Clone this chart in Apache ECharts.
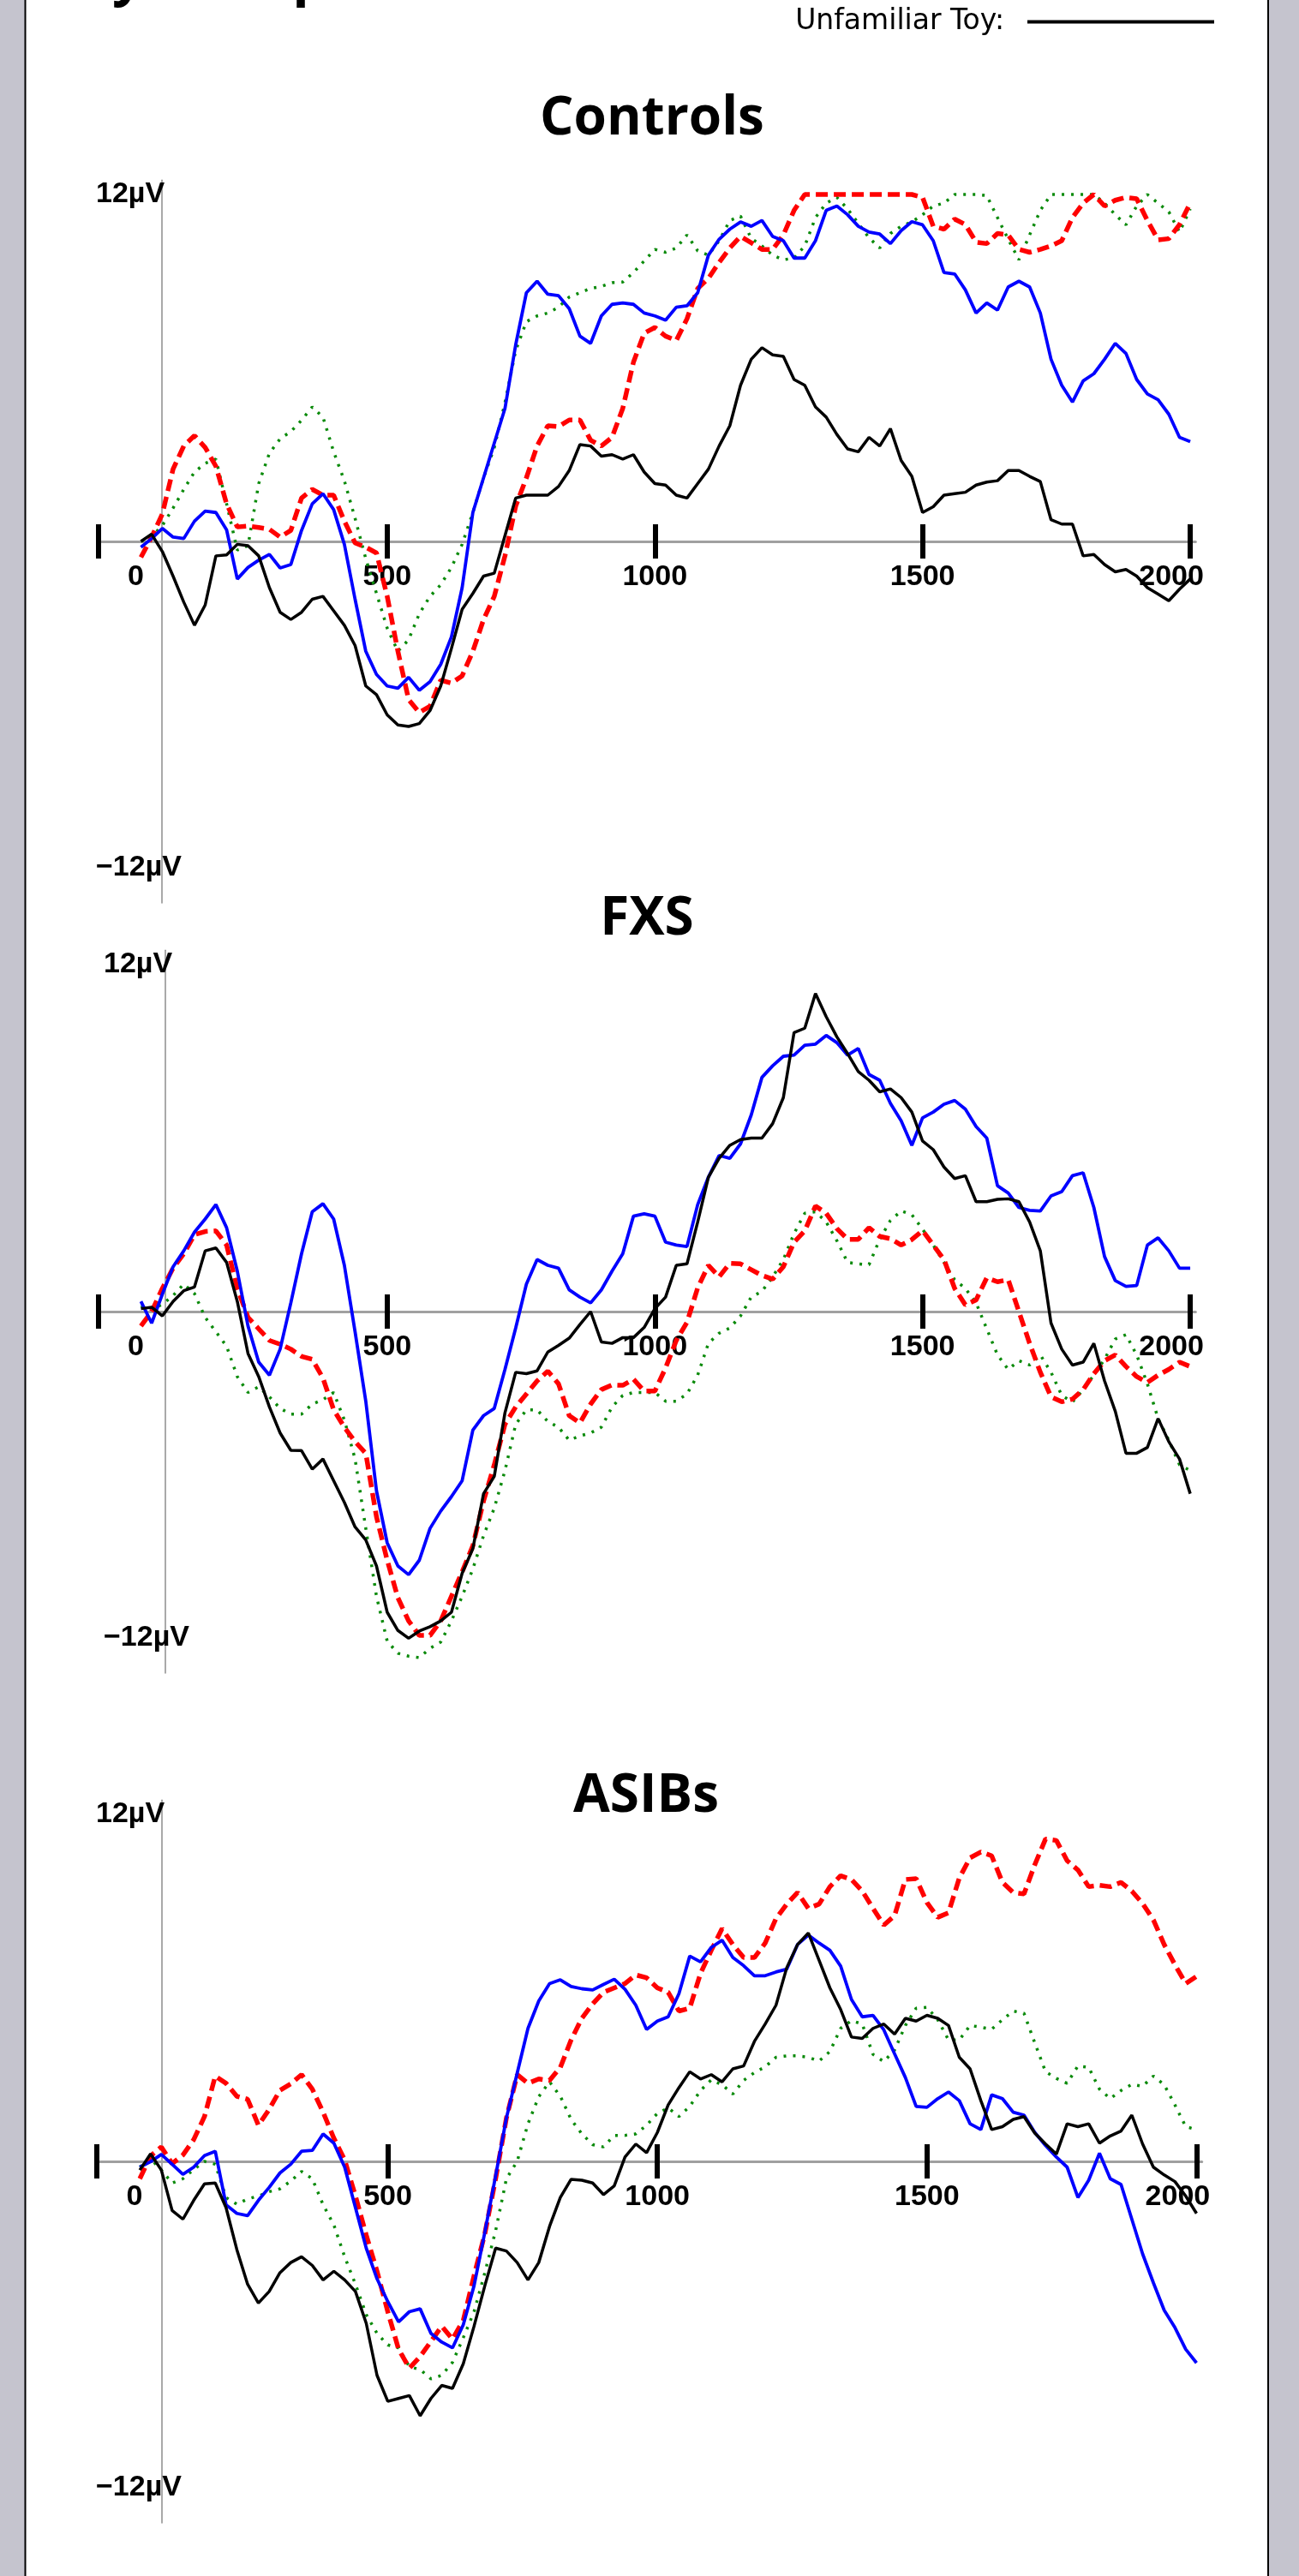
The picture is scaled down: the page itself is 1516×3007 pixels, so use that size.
<!DOCTYPE html>
<html>
<head>
<meta charset="utf-8">
<script src="https://cdn.jsdelivr.net/npm/echarts@6/dist/echarts.min.js"></script>
<style>
html, body { margin: 0; padding: 0; background: #fff; }
#chart { width: 1516px; height: 3007px; }
</style>
</head>
<body>
<div id="chart"></div>
<script>
// time of each sample (ms)
var times = [
  40, 60, 80, 100, 120, 140, 160, 180, 200, 220,
  240, 260, 280, 300, 320, 340, 360, 380, 400, 420,
  440, 460, 480, 500, 520, 540, 560, 580, 600, 620,
  640, 660, 680, 700, 720, 740, 760, 780, 800, 820,
  840, 860, 880, 900, 920, 940, 960, 980, 1000, 1020,
  1040, 1060, 1080, 1100, 1120, 1140, 1160, 1180, 1200, 1220,
  1240, 1260, 1280, 1300, 1320, 1340, 1360, 1380, 1400, 1420,
  1440, 1460, 1480, 1500, 1520, 1540, 1560, 1580, 1600, 1620,
  1640, 1660, 1680, 1700, 1720, 1740, 1760, 1780, 1800, 1820,
  1840, 1860, 1880, 1900, 1920, 1940, 1960, 1980, 2000
];

var xTicks = [-40, 500, 1000, 1500, 2000];
var xLabels = [0, 500, 1000, 1500, 2000];
var yLabels = [-12, 12];

// ---- Controls (µV) ----
var ctrlBlack = [
  0.0, 0.25, -0.35, -1.2, -2.1, -2.9, -2.2, -0.5, -0.47, -0.1,
  -0.15, -0.5, -1.6, -2.45, -2.7, -2.45, -2.0, -1.9, -2.4, -2.9,
  -3.6, -5.0, -5.3, -6.0, -6.35, -6.4, -6.3, -5.85, -5.0, -3.7,
  -2.35, -1.8, -1.2, -1.1, 0.2, 1.5, 1.6, 1.6, 1.6, 1.9,
  2.45, 3.35, 3.3, 2.95, 3.0, 2.85, 3.0, 2.4, 2.0, 1.95,
  1.6, 1.5, 2.0, 2.5, 3.3, 4.0, 5.4, 6.3, 6.7, 6.45,
  6.4, 5.6, 5.4, 4.65, 4.3, 3.7, 3.2, 3.1, 3.6, 3.3,
  3.9, 2.8, 2.25, 1.0, 1.2, 1.6, 1.65, 1.7, 1.95, 2.05,
  2.1, 2.45, 2.45, 2.25, 2.07, 0.75, 0.6, 0.6, -0.5, -0.45,
  -0.8, -1.05, -0.97, -1.2, -1.6, -1.82, -2.05, -1.65, -1.3
];
var ctrlBlue = [
  -0.2, 0.1, 0.45, 0.15, 0.1, 0.7, 1.05, 1.0, 0.4, -1.3,
  -0.9, -0.65, -0.45, -0.92, -0.8, 0.38, 1.3, 1.65, 1.1, -0.1,
  -2.0, -3.8, -4.6, -5.0, -5.08, -4.7, -5.15, -4.85, -4.25, -3.3,
  -1.6, 1.0, 2.2, 3.4, 4.6, 6.8, 8.6, 9.0, 8.55, 8.5,
  8.05, 7.1, 6.85, 7.8, 8.2, 8.25, 8.2, 7.9, 7.8, 7.65,
  8.1, 8.15, 8.6, 9.9, 10.45, 10.8, 11.05, 10.9, 11.1, 10.55,
  10.4, 9.8, 9.8, 10.4, 11.45, 11.6, 11.3, 10.9, 10.7, 10.63,
  10.3, 10.75, 11.06, 10.95, 10.4, 9.3, 9.25, 8.7, 7.9, 8.25,
  8.0, 8.8, 9.0, 8.8, 7.9, 6.3, 5.4, 4.82, 5.55, 5.8,
  6.3, 6.85, 6.5, 5.6, 5.1, 4.9, 4.4, 3.6, 3.45
];
var ctrlRed = [
  -0.55, 0.15, 0.95, 2.5, 3.3, 3.66, 3.25, 2.6, 1.3, 0.5,
  0.53, 0.48, 0.42, 0.15, 0.38, 1.5, 1.8, 1.6, 1.6, 0.7,
  -0.05, -0.2, -0.4, -1.9, -3.8, -5.47, -5.92, -5.7, -4.8, -4.9,
  -4.65, -3.8, -2.7, -1.9, -0.5, 1.22, 2.2, 3.3, 4.0, 3.97,
  4.2, 4.2, 3.5, 3.3, 3.6, 4.6, 6.2, 7.2, 7.4, 7.1,
  6.95, 7.7, 8.75, 9.1, 9.65, 10.15, 10.55, 10.33, 10.1, 10.1,
  10.6, 11.45, 12, 12, 12, 12, 12, 12, 12, 12,
  12, 12, 12, 11.9, 10.9, 10.8, 11.15, 10.96, 10.35, 10.3,
  10.65, 10.6, 10.1, 10.0, 10.1, 10.22, 10.4, 11.2, 11.7, 12.0,
  11.6, 11.8, 11.9, 11.85, 11.1, 10.43, 10.47, 10.96, 11.7
];
var ctrlGreen = [
  0.0, 0.17, 0.55, 1.15, 1.8, 2.4, 2.7, 2.85, 1.3, -0.3,
  -0.15, 2.0, 3.05, 3.55, 3.8, 4.19, 4.65, 4.3, 3.1, 2.1,
  0.8, -0.6, -1.8, -3.0, -3.8, -3.4, -2.5, -1.9, -1.5, -0.9,
  -0.1, 1.0, 2.2, 3.24, 4.8, 6.6, 7.6, 7.8, 7.9, 8.1,
  8.45, 8.6, 8.75, 8.82, 8.95, 8.97, 9.3, 9.7, 10.1, 10.0,
  10.15, 10.6, 10.05, 9.9, 10.4, 11.1, 11.25, 10.48, 10.22, 9.9,
  9.74, 9.8, 10.22, 11.2, 11.7, 11.9, 11.5, 11.0, 10.5, 10.15,
  10.65, 10.9, 11.05, 11.3, 11.6, 11.7, 12.0, 12.0, 12.0, 11.96,
  11.2, 10.45, 9.74, 10.6, 11.45, 12.0, 12.0, 12.0, 12.0, 12.0,
  11.7, 11.3, 10.95, 11.6, 12.0, 11.7, 11.4, 10.7, 11.5
];

// ---- FXS (µV) ----
var fxsBlack = [
  0.1, 0.15, -0.15, 0.35, 0.72, 0.85, 2.1, 2.2, 1.7, 0.35,
  -1.45, -2.25, -3.3, -4.2, -4.8, -4.81, -5.45, -5.1, -5.85, -6.6,
  -7.45, -7.9, -8.8, -10.4, -11.03, -11.3, -11.05, -10.9, -10.7, -10.4,
  -9.05, -8.2, -6.3, -5.7, -3.5, -2.1, -2.15, -2.05, -1.4, -1.17,
  -0.92, -0.45, 0.0, -1.05, -1.1, -0.9, -0.9, -0.55, 0.1, 0.5,
  1.6, 1.65, 3.1, 4.65, 5.3, 5.75, 5.95, 6.0, 6.0, 6.5,
  7.4, 9.65, 9.8, 11.0, 10.2, 9.5, 8.92, 8.3, 8.0, 7.6,
  7.7, 7.4, 6.9, 5.9, 5.6, 5.0, 4.6, 4.7, 3.8, 3.8,
  3.88, 3.9, 3.8, 3.1, 2.1, -0.4, -1.3, -1.85, -1.75, -1.1,
  -2.4, -3.45, -4.9, -4.9, -4.7, -3.7, -4.5, -5.1, -6.3
];
var fxsBlue = [
  0.35, -0.4, 0.6, 1.55, 2.1, 2.75, 3.2, 3.7, 2.9, 1.4,
  -0.5, -1.75, -2.2, -1.3, 0.3, 2.0, 3.45, 3.73, 3.2, 1.6,
  -0.7, -3.1, -6.2, -8.0, -8.8, -9.1, -8.6, -7.5, -6.9, -6.4,
  -5.85, -4.1, -3.6, -3.35, -2.0, -0.57, 0.95, 1.8, 1.6, 1.5,
  0.75, 0.5, 0.3, 0.75, 1.4, 2.0, 3.3, 3.38, 3.3, 2.4,
  2.3, 2.25, 3.7, 4.65, 5.4, 5.3, 5.8, 6.8, 8.1, 8.5,
  8.83, 8.87, 9.21, 9.25, 9.55, 9.3, 8.87, 9.1, 8.2, 8.0,
  7.2, 6.6, 5.75, 6.7, 6.9, 7.17, 7.3, 7.0, 6.4, 6.0,
  4.35, 4.1, 3.6, 3.5, 3.48, 4.0, 4.15, 4.7, 4.8, 3.6,
  1.9, 1.07, 0.87, 0.9, 2.3, 2.55, 2.1, 1.5, 1.5
];
var fxsRed = [
  -0.5, 0.0, 0.8, 1.5, 2.0, 2.66, 2.77, 2.79, 2.3, 0.8,
  -0.2, -0.6, -1.0, -1.13, -1.3, -1.55, -1.65, -2.3, -3.4, -4.0,
  -4.5, -4.9, -7.1, -8.6, -9.9, -10.7, -11.2, -11.2, -10.7, -9.85,
  -9.0, -8.1, -6.55, -5.3, -3.9, -3.3, -2.85, -2.4, -2.06, -2.5,
  -3.6, -3.85, -3.2, -2.7, -2.54, -2.55, -2.34, -2.75, -2.75, -1.95,
  -1.0, -0.37, 0.82, 1.6, 1.2, 1.67, 1.65, 1.45, 1.25, 1.12,
  1.55, 2.4, 2.79, 3.65, 3.4, 2.87, 2.5, 2.5, 2.9, 2.6,
  2.52, 2.3, 2.49, 2.8, 2.3, 1.8, 0.8, 0.23, 0.4, 1.17,
  1.03, 1.1, 0.0, -1.1, -2.1, -2.95, -3.12, -3.03, -2.7, -2.15,
  -1.7, -1.5, -1.9, -2.25, -2.45, -2.2, -2.0, -1.75, -1.9
];
var fxsGreen = [
  0.2, 0.08, 0.25, 0.55, 0.95, 0.62, -0.2, -0.7, -1.2, -2.25,
  -2.8, -2.6, -2.95, -3.35, -3.55, -3.55, -3.2, -3.05, -2.8, -3.75,
  -5.1, -7.5, -9.85, -11.4, -11.82, -11.92, -11.97, -11.65, -11.43, -10.7,
  -9.85, -8.9, -7.75, -6.8, -5.5, -3.9, -3.4, -3.4, -3.8, -4.0,
  -4.45, -4.3, -4.2, -4.0, -3.3, -2.9, -2.8, -2.8, -2.8, -3.1,
  -3.1, -2.85, -2.2, -1.1, -0.75, -0.57, -0.15, 0.5, 0.7, 1.2,
  1.8, 2.7, 3.4, 3.45, 3.1, 2.45, 1.7, 1.65, 1.62, 2.5,
  3.15, 3.48, 3.35, 2.85, 2.3, 1.7, 1.1, 0.8, 0.3, -0.6,
  -1.5, -2.0, -1.7, -1.85, -1.5, -2.1, -2.9, -3.13, -2.7, -2.2,
  -1.65, -0.95, -0.8, -1.5, -2.5, -3.7, -4.45, -5.3, -5.5
];

// ---- ASIBs (µV) ----
var asibBlack = [
  -0.3, 0.26, -0.3, -1.7, -2.0, -1.35, -0.78, -0.75, -1.6, -3.05,
  -4.25, -4.9, -4.5, -3.85, -3.5, -3.3, -3.6, -4.1, -3.8, -4.1,
  -4.5, -5.6, -7.4, -8.3, -8.2, -8.1, -8.8, -8.2, -7.75, -7.85,
  -7.0, -5.7, -4.3, -3.0, -3.1, -3.5, -4.1, -3.5, -2.25, -1.25,
  -0.62, -0.65, -0.75, -1.15, -0.85, 0.15, 0.6, 0.3, 1.0, 1.95,
  2.55, 3.1, 2.85, 3.0, 2.75, 3.2, 3.3, 4.15, 4.75, 5.4,
  6.7, 7.5, 7.9, 6.95, 6.0, 5.25, 4.3, 4.25, 4.6, 4.75,
  4.4, 4.95, 4.85, 5.05, 4.95, 4.7, 3.6, 3.2, 2.1, 1.1,
  1.2, 1.45, 1.55, 0.98, 0.6, 0.25, 1.3, 1.2, 1.3, 0.63,
  0.88, 1.05, 1.6, 0.6, -0.2, -0.47, -0.7, -1.2, -1.8
];
var asibBlue = [
  -0.2, -0.01, 0.24, -0.1, -0.45, -0.2, 0.2, 0.35, -1.5, -1.8,
  -1.88, -1.35, -0.9, -0.4, -0.1, 0.35, 0.38, 0.95, 0.63, -0.2,
  -1.6, -3.0, -4.06, -4.85, -5.55, -5.2, -5.1, -5.95, -6.25, -6.45,
  -5.65, -4.3, -2.45, -0.5, 1.5, 3.05, 4.6, 5.55, 6.15, 6.28,
  6.05, 5.97, 5.93, 6.12, 6.3, 5.95, 5.4, 4.56, 4.85, 5.0,
  5.8, 7.1, 6.9, 7.4, 7.65, 7.05, 6.77, 6.42, 6.42, 6.55,
  6.65, 7.5, 7.83, 7.55, 7.3, 6.75, 5.6, 5.0, 5.05, 4.55,
  3.72, 2.9, 1.9, 1.87, 2.17, 2.4, 2.1, 1.3, 1.1, 2.3,
  2.17, 1.7, 1.6, 1.0, 0.55, 0.15, -0.2, -1.25, -0.65, 0.28,
  -0.6, -0.8, -2.0, -3.2, -4.2, -5.15, -5.75, -6.5, -6.97
];
var asibRed = [
  -0.6, 0.19, 0.5, -0.08, 0.22, 0.75, 1.55, 2.95, 2.7, 2.25,
  2.15, 1.25, 1.8, 2.46, 2.68, 3.0, 2.5, 1.7, 0.8, 0.05,
  -1.2, -2.55, -3.8, -5.2, -6.5, -7.15, -6.75, -6.23, -5.7, -6.15,
  -5.5, -3.95, -2.5, -0.6, 1.5, 3.0, 2.7, 2.85, 2.8, 3.25,
  4.2, 4.95, 5.45, 5.85, 6.0, 6.15, 6.45, 6.35, 6.0, 5.85,
  5.2, 5.3, 6.5, 7.3, 8.05, 7.5, 7.05, 7.05, 7.55, 8.4,
  8.9, 9.3, 8.75, 8.9, 9.5, 9.88, 9.75, 9.35, 8.75, 8.17,
  8.5, 9.75, 9.78, 8.95, 8.44, 8.6, 9.8, 10.5, 10.7, 10.57,
  9.65, 9.3, 9.25, 10.26, 11.15, 11.1, 10.4, 10.08, 9.5, 9.55,
  9.5, 9.65, 9.35, 8.92, 8.35, 7.5, 6.8, 6.15, 6.4
];
var asibGreen = [
  -0.2, 0.09, -0.3, -0.75, -0.6, -0.28, 0.0, -0.1, -1.25, -1.48,
  -1.3, -1.2, -1.05, -0.95, -0.68, -0.35, -0.6, -1.5, -2.2, -3.3,
  -4.25, -5.3, -5.95, -6.35, -6.45, -7.1, -7.2, -7.52, -7.4, -6.95,
  -6.1, -5.2, -3.85, -2.4, -0.6, 0.0, 1.3, 2.24, 2.75, 2.25,
  1.45, 0.95, 0.58, 0.5, 0.9, 0.9, 0.95, 1.25, 1.66, 1.85,
  1.55, 1.9, 2.45, 2.82, 2.65, 2.33, 2.8, 3.07, 3.27, 3.6,
  3.65, 3.65, 3.6, 3.47, 3.8, 4.6, 4.87, 4.75, 3.7, 3.45,
  3.85, 4.7, 5.3, 5.33, 4.9, 4.2, 4.2, 4.7, 4.64, 4.57,
  4.9, 5.2, 5.12, 4.1, 3.1, 2.87, 2.7, 3.3, 3.25, 2.5,
  2.17, 2.45, 2.66, 2.6, 2.95, 2.65, 1.95, 1.2, 1.1
];

var PX_PER_UV = 33.75;
var HALF = 12.5 * PX_PER_UV;
var FONT = 'Liberation Sans';

var panels = [
  { title: 'Controls', tx: 761, ty: 139, zero: 632, left: 114.5, width: 1280.8, axisX: 189, labelX: 112,
    green: ctrlGreen, red: ctrlRed, blue: ctrlBlue, black: ctrlBlack },
  { title: 'FXS', tx: 755, ty: 1073, zero: 1531, left: 114.5, width: 1280.8, axisX: 193, labelX: 121,
    green: fxsGreen, red: fxsRed, blue: fxsBlue, black: fxsBlack },
  { title: 'ASIBs', tx: 754, ty: 2097, zero: 2523, left: 112.8, width: 1289.9, axisX: 189, labelX: 112,
    green: asibGreen, red: asibRed, blue: asibBlue, black: asibBlack }
];

function pairs(vals) {
  return times.map(function (t, i) { return [t, vals[i]]; });
}

var labelText = { fontSize: 34, fontFamily: FONT, fontWeight: 'bold', color: '#000' };

var grids = [], xAxes = [], yAxes = [], series = [];
var graphics = [
  { type: 'rect', shape: { x: 0, y: 0, width: 29, height: 3007 }, style: { fill: '#c5c4ce' } },
  { type: 'rect', shape: { x: 1481, y: 0, width: 35, height: 3007 }, style: { fill: '#c5c4ce' } },
  { type: 'line', shape: { x1: 29.5, y1: 0, x2: 29.5, y2: 3007 }, style: { stroke: '#000', lineWidth: 2 } },
  { type: 'line', shape: { x1: 1480, y1: 0, x2: 1480, y2: 3007 }, style: { stroke: '#000', lineWidth: 2 } },
  // heading cut off by the top edge
  { type: 'text', x: 88, y: -25, style: { text: 'By Group', fontFamily: 'Open Sans', fontWeight: 'bold',
      fontSize: 64, fill: '#000', align: 'left', verticalAlign: 'middle' } }
];

panels.forEach(function (p, i) {
  grids.push({ left: p.left, top: p.zero - HALF, width: p.width, height: 2 * HALF,
    containLabel: false, outerBoundsMode: 'none' });

  // zero line, lower half of the ticks and the tick labels (moved up to the 0 µV level)
  xAxes.push({
    gridIndex: i, type: 'value', min: -40, max: 2010, position: 'bottom', offset: -HALF,
    axisLine: { onZero: false, lineStyle: { color: '#a0a0a0', width: 3 } },
    axisTick: { show: true, customValues: xTicks, inside: false, length: 20,
      lineStyle: { color: '#000', width: 6 } },
    axisLabel: Object.assign({ customValues: xLabels, margin: 25,
      formatter: function (v) {
        if (v === 0) return '{z|0}';
        if (v === 2000) return '{e|2000}';
        return String(v);
      },
      rich: {
        z: Object.assign({ padding: [0, 0, 0, 38] }, labelText),
        e: Object.assign({ padding: [0, 44, 0, 0] }, labelText)
      } }, labelText),
    splitLine: { show: false }
  });
  // upper half of the ticks
  xAxes.push({
    gridIndex: i, type: 'value', min: -40, max: 2010, position: 'bottom', offset: -HALF,
    axisLine: { show: false, onZero: false },
    axisTick: { show: true, customValues: xTicks, inside: true, length: 20,
      lineStyle: { color: '#000', width: 6 } },
    axisLabel: { show: false },
    splitLine: { show: false }
  });

  yAxes.push({
    gridIndex: i, type: 'value', min: -12.5, max: 12.5, position: 'left',
    offset: p.left - p.axisX,
    axisLine: { show: true, onZero: false, lineStyle: { color: '#8c8c8c', width: 1.5 } },
    axisTick: { show: false },
    axisLabel: {
      customValues: yLabels, align: 'left', margin: p.axisX - p.labelX,
      formatter: function (v) {
        return v > 0 ? '{p|' + v + 'µV}' : '{n|\u2212' + Math.abs(v) + 'µV}';
      },
      rich: {
        p: Object.assign({}, labelText),
        n: Object.assign({ padding: [0, 0, 48, 0] }, labelText)
      }
    },
    splitLine: { show: false }
  });

  var common = { type: 'line', xAxisIndex: 2 * i, yAxisIndex: i, showSymbol: false,
    symbol: 'none', clip: false, silent: true, animation: false };
  series.push(Object.assign({}, common, { name: 'Familiar Person', color: '#0a8a0a', data: pairs(p.green),
    lineStyle: { color: '#0a8a0a', width: 3.5, type: [3, 8] } }));
  series.push(Object.assign({}, common, { name: 'Unfamiliar Person', color: '#ff0000', data: pairs(p.red),
    lineStyle: { color: '#ff0000', width: 5.5, type: [14, 7] } }));
  series.push(Object.assign({}, common, { name: 'Familiar Toy', color: '#0000ff', data: pairs(p.blue),
    lineStyle: { color: '#0000ff', width: 3.8 } }));
  series.push(Object.assign({}, common, { name: 'Unfamiliar Toy', color: '#000000', data: pairs(p.black),
    lineStyle: { color: '#000000', width: 3.5 } }));

  graphics.push({ type: 'text', x: p.tx, y: p.ty, style: { text: p.title, fontFamily: 'Open Sans',
    fontWeight: 'bold', fontSize: 62, fill: '#000', align: 'center', verticalAlign: 'middle' } });
});

var chart = echarts.init(document.getElementById('chart'), null, { renderer: 'canvas' });
chart.setOption({
  backgroundColor: '#ffffff',
  animation: false,
  legend: {
    data: ['Unfamiliar Toy'], right: 99, top: 9, padding: 0, align: 'right',
    icon: 'rect', itemWidth: 218, itemHeight: 4, selectedMode: false,
    itemStyle: { color: '#000000' },
    formatter: '{name}:',
    textStyle: { fontFamily: 'DejaVu Sans', fontSize: 33, color: '#000', lineHeight: 32, padding: [0, 22, 0, 0] }
  },
  grid: grids,
  xAxis: xAxes,
  yAxis: yAxes,
  series: series,
  graphic: graphics
});
</script>
</body>
</html>
